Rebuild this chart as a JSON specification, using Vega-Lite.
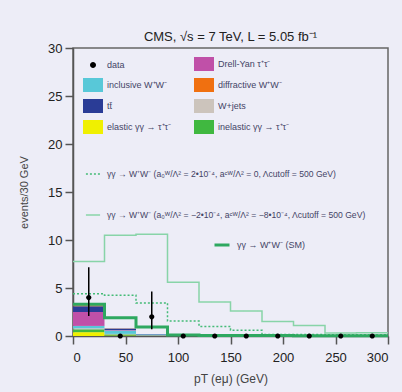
{
  "$schema": "https://vega.github.io/schema/vega-lite/v6.json",
  "width": 315,
  "height": 288,
  "autosize": {"type": "none"},
  "padding": {"left": 73, "top": 48, "right": 14, "bottom": 56},
  "background": "#ededf7",
  "title": {"text": "CMS, √s = 7 TeV, L = 5.05 fb⁻¹", "fontSize": 13, "fontWeight": "normal", "font": "Liberation Sans", "color": "#222", "offset": -2},
  "config": {
    "view": {"stroke": "#666", "strokeWidth": 1.5},
    "axis": {"grid": false, "domainColor": "#555", "domainWidth": 1.5, "tickColor": "#555", "tickWidth": 1.5, "tickSize": 8, "labelFont": "Liberation Sans", "labelFontSize": 13, "labelColor": "#222", "titleFont": "Liberation Sans", "titleFontWeight": "normal", "titleColor": "#444"},
    "legend": {"labelFont": "Liberation Sans", "labelFontSize": 9, "labelColor": "#444466", "padding": 0, "title": null}
  },
  "datasets": {
    "stack": [
      {"lo": 0, "hi": 30, "process": "elastic γγ → τ⁺τ⁻", "ord": 1, "n": 0.4},
      {"lo": 0, "hi": 30, "process": "inelastic γγ → τ⁺τ⁻", "ord": 2, "n": 0.3},
      {"lo": 0, "hi": 30, "process": "W+jets", "ord": 3, "n": 0.1},
      {"lo": 0, "hi": 30, "process": "inclusive W⁺W⁻", "ord": 4, "n": 0.25},
      {"lo": 0, "hi": 30, "process": "Drell-Yan τ⁺τ⁻", "ord": 5, "n": 1.45},
      {"lo": 0, "hi": 30, "process": "tt̄", "ord": 6, "n": 0.6},
      {"lo": 0, "hi": 30, "process": "diffractive W⁺W⁻", "ord": 7, "n": 0.1},
      {"lo": 30, "hi": 60, "process": "elastic γγ → τ⁺τ⁻", "ord": 1, "n": 0.05},
      {"lo": 30, "hi": 60, "process": "inelastic γγ → τ⁺τ⁻", "ord": 2, "n": 0.12},
      {"lo": 30, "hi": 60, "process": "W+jets", "ord": 3, "n": 0.05},
      {"lo": 30, "hi": 60, "process": "inclusive W⁺W⁻", "ord": 4, "n": 0.35},
      {"lo": 30, "hi": 60, "process": "Drell-Yan τ⁺τ⁻", "ord": 5, "n": 0.05},
      {"lo": 30, "hi": 60, "process": "tt̄", "ord": 6, "n": 0.15},
      {"lo": 30, "hi": 60, "process": "diffractive W⁺W⁻", "ord": 7, "n": 0.02},
      {"lo": 60, "hi": 90, "process": "elastic γγ → τ⁺τ⁻", "ord": 1, "n": 0.01},
      {"lo": 60, "hi": 90, "process": "inelastic γγ → τ⁺τ⁻", "ord": 2, "n": 0.02},
      {"lo": 60, "hi": 90, "process": "W+jets", "ord": 3, "n": 0.05},
      {"lo": 60, "hi": 90, "process": "inclusive W⁺W⁻", "ord": 4, "n": 0.08},
      {"lo": 60, "hi": 90, "process": "tt̄", "ord": 6, "n": 0.04},
      {"lo": 90, "hi": 120, "process": "W+jets", "ord": 3, "n": 0.02},
      {"lo": 90, "hi": 120, "process": "inclusive W⁺W⁻", "ord": 4, "n": 0.05},
      {"lo": 90, "hi": 120, "process": "tt̄", "ord": 6, "n": 0.03},
      {"lo": 120, "hi": 150, "process": "inclusive W⁺W⁻", "ord": 4, "n": 0.03},
      {"lo": 120, "hi": 150, "process": "tt̄", "ord": 6, "n": 0.02},
      {"lo": 150, "hi": 180, "process": "inclusive W⁺W⁻", "ord": 4, "n": 0.02},
      {"lo": 180, "hi": 210, "process": "inclusive W⁺W⁻", "ord": 4, "n": 0.01},
      {"lo": 210, "hi": 240, "process": "inclusive W⁺W⁻", "ord": 4, "n": 0.01}
    ],
    "lines": [
      {"model": "γγ → W⁺W⁻ (a₀ᵂ/Λ² = 2•10⁻⁴, aᶜᵂ/Λ² = 0, Λcutoff = 500 GeV)", "x": 0, "y": 4.4},
      {"model": "γγ → W⁺W⁻ (a₀ᵂ/Λ² = 2•10⁻⁴, aᶜᵂ/Λ² = 0, Λcutoff = 500 GeV)", "x": 30, "y": 4.25},
      {"model": "γγ → W⁺W⁻ (a₀ᵂ/Λ² = 2•10⁻⁴, aᶜᵂ/Λ² = 0, Λcutoff = 500 GeV)", "x": 60, "y": 3.45},
      {"model": "γγ → W⁺W⁻ (a₀ᵂ/Λ² = 2•10⁻⁴, aᶜᵂ/Λ² = 0, Λcutoff = 500 GeV)", "x": 90, "y": 1.55},
      {"model": "γγ → W⁺W⁻ (a₀ᵂ/Λ² = 2•10⁻⁴, aᶜᵂ/Λ² = 0, Λcutoff = 500 GeV)", "x": 120, "y": 1.0},
      {"model": "γγ → W⁺W⁻ (a₀ᵂ/Λ² = 2•10⁻⁴, aᶜᵂ/Λ² = 0, Λcutoff = 500 GeV)", "x": 150, "y": 0.6},
      {"model": "γγ → W⁺W⁻ (a₀ᵂ/Λ² = 2•10⁻⁴, aᶜᵂ/Λ² = 0, Λcutoff = 500 GeV)", "x": 180, "y": 0.15},
      {"model": "γγ → W⁺W⁻ (a₀ᵂ/Λ² = 2•10⁻⁴, aᶜᵂ/Λ² = 0, Λcutoff = 500 GeV)", "x": 210, "y": 0.15},
      {"model": "γγ → W⁺W⁻ (a₀ᵂ/Λ² = 2•10⁻⁴, aᶜᵂ/Λ² = 0, Λcutoff = 500 GeV)", "x": 240, "y": 0.12},
      {"model": "γγ → W⁺W⁻ (a₀ᵂ/Λ² = 2•10⁻⁴, aᶜᵂ/Λ² = 0, Λcutoff = 500 GeV)", "x": 270, "y": 0.12},
      {"model": "γγ → W⁺W⁻ (a₀ᵂ/Λ² = 2•10⁻⁴, aᶜᵂ/Λ² = 0, Λcutoff = 500 GeV)", "x": 300, "y": 0.12},
      {"model": "γγ → W⁺W⁻ (a₀ᵂ/Λ² = −2•10⁻⁴, aᶜᵂ/Λ² = −8•10⁻⁴, Λcutoff = 500 GeV)", "x": 0, "y": 7.75},
      {"model": "γγ → W⁺W⁻ (a₀ᵂ/Λ² = −2•10⁻⁴, aᶜᵂ/Λ² = −8•10⁻⁴, Λcutoff = 500 GeV)", "x": 30, "y": 10.5},
      {"model": "γγ → W⁺W⁻ (a₀ᵂ/Λ² = −2•10⁻⁴, aᶜᵂ/Λ² = −8•10⁻⁴, Λcutoff = 500 GeV)", "x": 60, "y": 10.6},
      {"model": "γγ → W⁺W⁻ (a₀ᵂ/Λ² = −2•10⁻⁴, aᶜᵂ/Λ² = −8•10⁻⁴, Λcutoff = 500 GeV)", "x": 90, "y": 5.6},
      {"model": "γγ → W⁺W⁻ (a₀ᵂ/Λ² = −2•10⁻⁴, aᶜᵂ/Λ² = −8•10⁻⁴, Λcutoff = 500 GeV)", "x": 120, "y": 3.55},
      {"model": "γγ → W⁺W⁻ (a₀ᵂ/Λ² = −2•10⁻⁴, aᶜᵂ/Λ² = −8•10⁻⁴, Λcutoff = 500 GeV)", "x": 150, "y": 2.6},
      {"model": "γγ → W⁺W⁻ (a₀ᵂ/Λ² = −2•10⁻⁴, aᶜᵂ/Λ² = −8•10⁻⁴, Λcutoff = 500 GeV)", "x": 180, "y": 1.5},
      {"model": "γγ → W⁺W⁻ (a₀ᵂ/Λ² = −2•10⁻⁴, aᶜᵂ/Λ² = −8•10⁻⁴, Λcutoff = 500 GeV)", "x": 210, "y": 1.1},
      {"model": "γγ → W⁺W⁻ (a₀ᵂ/Λ² = −2•10⁻⁴, aᶜᵂ/Λ² = −8•10⁻⁴, Λcutoff = 500 GeV)", "x": 240, "y": 0.3},
      {"model": "γγ → W⁺W⁻ (a₀ᵂ/Λ² = −2•10⁻⁴, aᶜᵂ/Λ² = −8•10⁻⁴, Λcutoff = 500 GeV)", "x": 270, "y": 0.35},
      {"model": "γγ → W⁺W⁻ (a₀ᵂ/Λ² = −2•10⁻⁴, aᶜᵂ/Λ² = −8•10⁻⁴, Λcutoff = 500 GeV)", "x": 300, "y": 0.35}
    ],
    "sm": [
      {"model": "γγ → W⁺W⁻ (SM)", "x": 0, "y": 3.3},
      {"model": "γγ → W⁺W⁻ (SM)", "x": 30, "y": 1.9},
      {"model": "γγ → W⁺W⁻ (SM)", "x": 60, "y": 0.94},
      {"model": "γγ → W⁺W⁻ (SM)", "x": 90, "y": 0.1},
      {"model": "γγ → W⁺W⁻ (SM)", "x": 120, "y": 0.06},
      {"model": "γγ → W⁺W⁻ (SM)", "x": 150, "y": 0.05},
      {"model": "γγ → W⁺W⁻ (SM)", "x": 180, "y": 0.04},
      {"model": "γγ → W⁺W⁻ (SM)", "x": 210, "y": 0.03},
      {"model": "γγ → W⁺W⁻ (SM)", "x": 240, "y": 0.02},
      {"model": "γγ → W⁺W⁻ (SM)", "x": 270, "y": 0.02},
      {"model": "γγ → W⁺W⁻ (SM)", "x": 300, "y": 0.02}
    ],
    "obs": [
      {"process": "data", "x": 15, "n": 4, "lo": 2.09, "hi": 7.16},
      {"process": "data", "x": 45, "n": 0, "lo": null, "hi": null},
      {"process": "data", "x": 75, "n": 2, "lo": 0.71, "hi": 4.64},
      {"process": "data", "x": 105, "n": 0, "lo": null, "hi": null},
      {"process": "data", "x": 135, "n": 0, "lo": null, "hi": null},
      {"process": "data", "x": 165, "n": 0, "lo": null, "hi": null},
      {"process": "data", "x": 195, "n": 0, "lo": null, "hi": null},
      {"process": "data", "x": 225, "n": 0, "lo": null, "hi": null},
      {"process": "data", "x": 255, "n": 0, "lo": null, "hi": null},
      {"process": "data", "x": 285, "n": 0, "lo": null, "hi": null}
    ]
  },
  "layer": [
    {
      "data": {"name": "stack"},
      "transform": [
        {"stack": "n", "groupby": ["lo"], "sort": [{"field": "ord", "order": "ascending"}], "as": ["y0", "y1"]}
      ],
      "mark": {"type": "rect", "stroke": null},
      "encoding": {
        "x": {"field": "lo", "type": "quantitative", "scale": {"domain": [0, 300], "nice": false, "zero": false}, "axis": {"values": [0, 50, 100, 150, 200, 250, 300], "title": "pT (eμ) (GeV)", "titleFontSize": 12, "titlePadding": 9, "labelPadding": 7}},
        "x2": {"field": "hi"},
        "y": {"field": "y0", "type": "quantitative", "scale": {"domain": [0, 30], "nice": false}, "axis": {"values": [0, 5, 10, 15, 20, 25, 30], "title": "events/30 GeV", "titleFontSize": 11, "titlePadding": 18, "labelPadding": 3}},
        "y2": {"field": "y1"},
        "color": {"field": "process", "type": "nominal", "legend": {"orient": "none", "legendX": 10, "legendY": 6, "columns": 2, "columnPadding": 22, "rowPadding": 4, "symbolSize": 400, "labelOffset": 4, "symbolStrokeWidth": 0}}
      }
    },
    {
      "data": {"name": "lines"},
      "mark": {"type": "line", "interpolate": "step-after", "strokeWidth": 1.5},
      "encoding": {
        "x": {"field": "x", "type": "quantitative"},
        "y": {"field": "y", "type": "quantitative"},
        "stroke": {"field": "model", "type": "nominal", "scale": {"range": ["#44bb77", "#88d4a8"]}, "legend": {"orient": "none", "legendX": 12, "legendY": 118, "rowPadding": 28, "symbolSize": 200, "symbolType": "stroke", "symbolStrokeWidth": 1.5, "labelOffset": 6, "labelLimit": 300, "labelFontSize": 8.6}},
        "strokeDash": {"field": "model", "type": "nominal", "scale": {"range": [[2, 2], [1, 0]]}, "legend": {"orient": "none", "legendX": 12, "legendY": 118, "rowPadding": 28, "symbolSize": 200, "symbolType": "stroke", "symbolStrokeWidth": 1.5, "labelOffset": 6, "labelLimit": 300, "labelFontSize": 8.6}}
      }
    },
    {
      "data": {"name": "sm"},
      "mark": {"type": "line", "interpolate": "step-after", "strokeWidth": 3, "color": "#2ea860"},
      "encoding": {
        "x": {"field": "x", "type": "quantitative"},
        "y": {"field": "y", "type": "quantitative"},
        "opacity": {"field": "model", "type": "nominal", "scale": {"range": [1]}, "legend": {"orient": "none", "legendX": 140, "legendY": 188, "symbolSize": 225, "symbolType": "stroke", "symbolStrokeColor": "#2ea860", "symbolStrokeWidth": 3, "labelOffset": 6}}
      }
    },
    {
      "data": {"name": "obs"},
      "mark": {"type": "rule", "color": "#000", "strokeWidth": 1.5},
      "encoding": {
        "x": {"field": "x", "type": "quantitative"},
        "y": {"field": "lo", "type": "quantitative"},
        "y2": {"field": "hi"}
      }
    },
    {
      "data": {"name": "obs"},
      "mark": {"type": "point", "filled": true, "size": 300, "opacity": 1, "strokeWidth": 0},
      "encoding": {
        "x": {"field": "x", "type": "quantitative"},
        "y": {"field": "n", "type": "quantitative"},
        "color": {"field": "process", "type": "nominal",
          "scale": {"domain": ["data", "inclusive W⁺W⁻", "tt̄", "elastic γγ → τ⁺τ⁻", "Drell-Yan τ⁺τ⁻", "diffractive W⁺W⁻", "W+jets", "inelastic γγ → τ⁺τ⁻"], "range": ["#000000", "#58c8d8", "#2a3c96", "#f0f000", "#c050a8", "#f07010", "#ccc4bc", "#40b840"]},
          "legend": {"orient": "none", "legendX": 10, "legendY": 6, "columns": 2, "columnPadding": 22, "rowPadding": 4, "symbolSize": 400, "labelOffset": 4, "symbolStrokeWidth": 0}},
        "shape": {"field": "process", "type": "nominal",
          "scale": {"domain": ["data", "inclusive W⁺W⁻", "tt̄", "elastic γγ → τ⁺τ⁻", "Drell-Yan τ⁺τ⁻", "diffractive W⁺W⁻", "W+jets", "inelastic γγ → τ⁺τ⁻"], "range": ["M0,-0.3A0.3,0.3 0 1,1 0,0.3A0.3,0.3 0 1,1 0,-0.3Z", "M-1,-0.7H1V0.7H-1Z", "M-1,-0.7H1V0.7H-1Z", "M-1,-0.7H1V0.7H-1Z", "M-1,-0.7H1V0.7H-1Z", "M-1,-0.7H1V0.7H-1Z", "M-1,-0.7H1V0.7H-1Z", "M-1,-0.7H1V0.7H-1Z"]},
          "legend": {"orient": "none", "legendX": 10, "legendY": 6, "columns": 2, "columnPadding": 22, "rowPadding": 4, "symbolSize": 400, "labelOffset": 4, "symbolStrokeWidth": 0}}
      }
    }
  ]
}
